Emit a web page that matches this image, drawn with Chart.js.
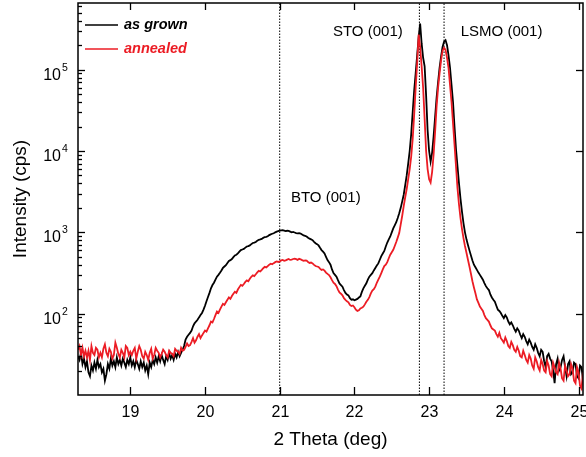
<!DOCTYPE html>
<html><head><meta charset="utf-8">
<script src="https://cdn.jsdelivr.net/npm/chart.js@4.4.1/dist/chart.umd.min.js"></script>
<style>html,body{margin:0;padding:0;background:#fff}#wrap{width:586px;height:457px}</style>
</head><body><div id="wrap"><canvas id="c" width="586" height="457"></canvas></div>
<script>
// 2-theta sampling grid (deg), one row = 0.2 deg
const twoTheta = [
18.30,18.32,18.34,18.36,18.38,18.40,18.42,18.44,18.46,18.48,
18.50,18.52,18.54,18.56,18.58,18.60,18.62,18.64,18.66,18.68,
18.70,18.72,18.74,18.76,18.78,18.80,18.82,18.84,18.86,18.88,
18.90,18.92,18.94,18.96,18.98,19.00,19.02,19.04,19.06,19.08,
19.10,19.12,19.14,19.16,19.18,19.20,19.22,19.24,19.26,19.28,
19.30,19.32,19.34,19.36,19.38,19.40,19.42,19.44,19.46,19.48,
19.50,19.52,19.54,19.56,19.58,19.60,19.62,19.64,19.66,19.68,
19.70,19.72,19.74,19.76,19.78,19.80,19.82,19.84,19.86,19.88,
19.90,19.92,19.94,19.96,19.98,20.00,20.02,20.04,20.06,20.08,
20.10,20.12,20.14,20.16,20.18,20.20,20.22,20.24,20.26,20.28,
20.30,20.32,20.34,20.36,20.38,20.40,20.42,20.44,20.46,20.48,
20.50,20.52,20.54,20.56,20.58,20.60,20.62,20.64,20.66,20.68,
20.70,20.72,20.74,20.76,20.78,20.80,20.82,20.84,20.86,20.88,
20.90,20.92,20.94,20.96,20.98,21.00,21.02,21.04,21.06,21.08,
21.10,21.12,21.14,21.16,21.18,21.20,21.22,21.24,21.26,21.28,
21.30,21.32,21.34,21.36,21.38,21.40,21.42,21.44,21.46,21.48,
21.50,21.52,21.54,21.56,21.58,21.60,21.62,21.64,21.66,21.68,
21.70,21.72,21.74,21.76,21.78,21.80,21.82,21.84,21.86,21.88,
21.90,21.92,21.94,21.96,21.98,22.00,22.02,22.04,22.06,22.08,
22.10,22.12,22.14,22.16,22.18,22.20,22.22,22.24,22.26,22.28,
22.30,22.32,22.34,22.36,22.38,22.40,22.42,22.44,22.46,22.48,
22.50,22.52,22.54,22.56,22.58,22.60,22.62,22.64,22.66,22.68,
22.70,22.72,22.74,22.76,22.78,22.80,22.82,22.84,22.86,22.88,
22.90,22.92,22.94,22.96,22.98,23.00,23.02,23.04,23.06,23.08,
23.10,23.12,23.14,23.16,23.18,23.20,23.22,23.24,23.26,23.28,
23.30,23.32,23.34,23.36,23.38,23.40,23.42,23.44,23.46,23.48,
23.50,23.52,23.54,23.56,23.58,23.60,23.62,23.64,23.66,23.68,
23.70,23.72,23.74,23.76,23.78,23.80,23.82,23.84,23.86,23.88,
23.90,23.92,23.94,23.96,23.98,24.00,24.02,24.04,24.06,24.08,
24.10,24.12,24.14,24.16,24.18,24.20,24.22,24.24,24.26,24.28,
24.30,24.32,24.34,24.36,24.38,24.40,24.42,24.44,24.46,24.48,
24.50,24.52,24.54,24.56,24.58,24.60,24.62,24.64,24.66,24.68,
24.70,24.72,24.74,24.76,24.78,24.80,24.82,24.84,24.86,24.88,
24.90,24.92,24.94,24.96,24.98,25.00,25.02,25.04,25.06,25.08
];
// Intensity (cps), as grown
const asGrown = [
30,27,33,24,28,22,26,19,17,23,
20,25,21,27,22,24,19,21,15,18,
24,21,28,23,26,22,29,24,27,23,
28,25,22,27,24,29,23,26,22,27,
24,21,26,22,25,20,23,18,25,22,
27,24,29,25,30,26,31,27,24,30,
27,33,28,31,27,32,29,34,30,33,
36,40,48,52,55,58,62,70,76,80,
84,90,96,102,112,125,142,160,180,205,
225,240,262,285,300,318,340,365,380,395,
420,445,455,470,495,520,530,550,578,605,
615,625,648,670,678,690,715,740,748,760,
790,810,818,830,855,875,882,895,925,945,
960,975,1000,1020,1035,1050,1060,1065,1050,1035,
1045,1040,1020,1000,1010,995,980,970,975,965,
940,915,905,890,860,835,820,800,765,735,
715,690,645,605,580,550,500,455,430,400,
350,315,300,285,258,235,225,215,195,180,
172,168,155,148,150,146,149,152,158,163,
185,205,220,236,262,285,300,315,340,365,
390,415,460,510,550,590,670,750,820,890,
1000,1120,1220,1330,1500,1720,2000,2400,2900,3800,
5000,7000,10000,16000,30000,55000,90000,150000,250000,370000,
210000,140000,110000,48000,18000,10000,7400,9500,15000,26000,
45000,70000,105000,145000,190000,220000,230000,200000,150000,105000,
65000,40000,20000,10500,6500,4000,2600,1800,1300,1000,
820,700,600,520,450,400,372,345,320,300,
280,262,238,218,205,195,172,158,148,140,
125,112,108,102,94,88,96,90,80,74,
78,72,65,60,66,62,55,50,56,52,
46,42,48,44,39,36,42,38,33,30,
36,34,26,22,30,32,28,26,20,14,
24,28,20,22,27,30,22,17,24,26,
18,19,25,24,17,16,23,22,15,18
];
// Intensity (cps), annealed
const annealed = [
36,40,31,38,30,35,29,35,27,40,
33,31,38,36,29,33,29,37,42,33,
30,37,34,28,31,44,38,32,29,36,
33,29,40,38,31,34,31,35,38,28,
34,40,36,30,28,34,31,27,33,37,
28,31,38,35,33,29,32,36,34,31,
29,35,33,32,30,37,35,34,32,38,
35,36,39,43,40,41,45,50,44,47,
52,56,50,54,58,62,60,66,72,80,
78,86,96,106,102,112,122,132,128,138,
148,158,152,165,176,186,180,198,212,226,
220,232,246,256,250,268,284,296,290,305,
322,336,330,345,362,376,370,385,400,412,
405,418,430,438,432,440,452,458,448,452,
462,470,458,462,470,475,468,458,472,466,
455,446,452,448,432,420,425,415,398,385,
380,375,358,345,350,338,320,308,298,280,
258,240,232,218,198,182,176,168,155,148,
142,138,128,124,126,120,112,108,110,116,
118,122,130,140,148,160,178,192,200,215,
240,262,285,315,350,385,400,430,480,530,
570,610,680,760,860,980,1250,1600,2100,2700,
3400,4500,6000,8500,14000,28000,60000,120000,270000,190000,
110000,60000,25000,10000,6000,4500,4100,5500,9000,17000,
35000,60000,90000,130000,170000,186000,175000,140000,105000,65000,
40000,22000,12000,6500,3500,2200,1500,1100,850,680,
560,460,380,310,250,210,178,150,136,122,
115,108,96,88,84,80,72,66,64,62,
56,52,58,50,47,44,51,46,40,38,
45,41,36,34,39,35,30,29,35,31,
27,25,31,28,23,21,29,26,22,20,
27,24,20,19,26,23,18,17,25,22,
19,18,25,21,16,15,23,20,17,18,
24,21,15,14,22,19,13,12,19,17
];
const seriesNames = ['as grown', 'annealed'];
const xTickValues = [19, 20, 21, 22, 23, 24, 25];
const yDecadeExponents = [1, 2, 3, 4, 5];
const yLabelExponents = [2, 3, 4, 5];
const referenceLines = [21.0, 22.87, 23.2];
const peakNames = ['BTO (001)', 'STO (001)', 'LSMO (001)'];
const peakLabelAnchors = [[21.15, 2650, 'left'], [22.18, 2.95e5, 'center'], [23.97, 2.95e5, 'center']];

const FONT = '"Liberation Sans", Arial, Helvetica, sans-serif';
const X_MIN = 18.3, X_MAX = 25.06, Y_MIN = 10, Y_MAX = 6.6e5;
const RED = '#ec1c24';

const pts = vals => twoTheta.map((t, i) => ({x: t, y: vals[i]}));
const datasets = [
  {label: seriesNames[0], data: pts(asGrown), borderColor: '#000', borderWidth: 1.8, pointRadius: 0, tension: 0, order: 2},
  {label: seriesNames[1], data: pts(annealed), borderColor: RED, borderWidth: 1.8, pointRadius: 0, tension: 0, order: 1}
];
referenceLines.forEach(v => datasets.push({
  label: '', data: [{x: v, y: Y_MIN}, {x: v, y: Y_MAX}], borderColor: '#000', borderWidth: 1,
  borderDash: [1.5, 1.5], pointRadius: 0, order: 3
}));

const decor = {
  id: 'decor',
  afterDraw(chart) {
    const {ctx, chartArea: a, scales: {x, y}} = chart;
    ctx.save();
    ctx.strokeStyle = '#000';
    const seg = (x1, y1, x2, y2) => { ctx.beginPath(); ctx.moveTo(x1, y1); ctx.lineTo(x2, y2); ctx.stroke(); };
    ctx.lineWidth = 1.5;
    ctx.strokeRect(a.left, a.top, a.right - a.left, a.bottom - a.top);
    ctx.lineWidth = 1.3;
    ctx.fillStyle = '#000';
    ctx.font = '16px ' + FONT;
    ctx.textAlign = 'center';
    ctx.textBaseline = 'alphabetic';
    xTickValues.forEach(v => {
      const px = Math.round(x.getPixelForValue(v)) + 0.5;
      seg(px, a.bottom, px, a.bottom - 8);
      seg(px, a.top, px, a.top + 7);
      ctx.fillText(String(v), px, a.bottom + 22);
    });
    yDecadeExponents.forEach(e => {
      for (let m = 1; m <= 9; m++) {
        const v = m * Math.pow(10, e);
        if (v <= Y_MIN || v >= Y_MAX) continue;
        const py = Math.round(y.getPixelForValue(v)) + 0.5;
        seg(a.left, py, a.left + (m === 1 ? 7 : 4), py);
        if (m === 1) seg(a.right, py, a.right - 7, py);
      }
    });
    yLabelExponents.forEach(e => {
      const py = y.getPixelForValue(Math.pow(10, e));
      ctx.textAlign = 'right';
      ctx.font = '16px ' + FONT;
      ctx.fillText('10', 61, py + 10);
      ctx.textAlign = 'left';
      ctx.font = '10.5px ' + FONT;
      ctx.fillText(String(e), 62, py + 1);
    });
    ctx.font = '15px ' + FONT;
    ctx.textBaseline = 'middle';
    peakNames.forEach((t, i) => {
      const [vx, vy, al] = peakLabelAnchors[i];
      ctx.textAlign = al;
      ctx.fillText(t, x.getPixelForValue(vx), y.getPixelForValue(vy));
    });
    ctx.font = 'italic bold 14.5px ' + FONT;
    ctx.textAlign = 'left';
    [0, 1].forEach(i => {
      const ds = chart.data.datasets[i];
      const ly = a.top + 22 + i * 24;
      ctx.strokeStyle = ds.borderColor;
      ctx.lineWidth = 1.6;
      seg(a.left + 7, ly, a.left + 40, ly);
      ctx.fillStyle = ds.borderColor;
      ctx.fillText(ds.label, a.left + 46, ly);
    });
    ctx.restore();
  }
};

new Chart(document.getElementById('c'), {
  type: 'line',
  data: {datasets},
  options: {
    responsive: false, devicePixelRatio: 1, animation: false,
    layout: {padding: {top: 3, right: 3, left: 0, bottom: 0}},
    plugins: {legend: {display: false}, tooltip: {enabled: false}},
    scales: {
      x: {
        type: 'linear', min: X_MIN, max: X_MAX,
        grid: {display: false}, border: {display: false},
        ticks: {display: false},
        title: {display: true, text: '2 Theta (deg)', color: '#000', font: {family: FONT, size: 19}, padding: {top: 0, bottom: 6}},
        afterFit(s) { s.height = 62; }
      },
      y: {
        type: 'logarithmic', min: Y_MIN, max: Y_MAX,
        grid: {display: false}, border: {display: false},
        ticks: {display: false},
        title: {display: true, text: 'Intensity (cps)', color: '#000', font: {family: FONT, size: 19}, padding: {top: 9, bottom: 0}},
        afterFit(s) { s.width = 78; }
      }
    }
  },
  plugins: [decor]
});
</script></body></html>
